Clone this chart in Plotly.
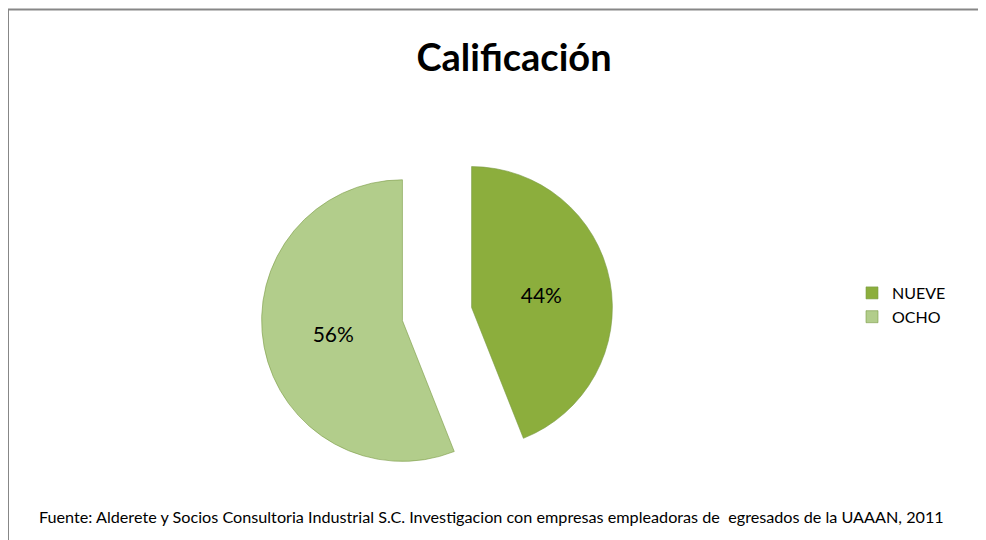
import plotly.graph_objects as go

# datos
labels = ["NUEVE", "OCHO"]
values = [44, 56]
colors = ["#8cae3d", "#b2cd8b"]

titulo = "Calificación"
fuente = ("Fuente: Alderete y Socios Consultoria Industrial S.C. Investigacion con empresas "
          "empleadoras de  egresados de la UAAAN, 2011")

W, H = 986, 540
OFF = 8  # margen del body en la pagina


def px(x):
    return (x - OFF) / W


def py(y):
    return 1 - (y - OFF) / H


fig = go.Figure()
fig.add_trace(go.Pie(
    labels=labels, values=values,
    sort=False, direction="clockwise", rotation=0,
    pull=[0.25, 0.25],
    marker=dict(colors=colors, line=dict(color="#7a9a45", width=0.6)),
    textinfo="percent", textposition="inside", insidetextorientation="horizontal",
    textfont=dict(size=21, color="#000000", family="Lato"),
    domain=dict(x=[px(437 - 176), px(437 + 176)], y=[py(314 + 176), py(314 - 176)]),
    hoverinfo="label+percent",
))

fig.update_layout(
    width=W, height=H,
    margin=dict(l=0, r=0, t=0, b=0),
    paper_bgcolor="white", plot_bgcolor="white",
    font=dict(family="Lato", color="#000000"),
    title=dict(text="<b>" + titulo + "</b>", x=px(514), xanchor="center",
               y=py(58), yanchor="middle", font=dict(size=38, family="Lato")),
    showlegend=True,
    legend=dict(x=px(852), xanchor="left", y=py(276), yanchor="top",
                font=dict(size=16, family="Lato"), bgcolor="rgba(0,0,0,0)",
                itemwidth=30),
    annotations=[dict(text=fuente, x=px(37), xanchor="left", y=py(517), yanchor="middle",
                      xref="paper", yref="paper", showarrow=False,
                      font=dict(size=16.2, family="Lato"))],
    shapes=[dict(type="rect", xref="paper", yref="paper",
                 x0=0, x1=1.05, y0=-0.05, y1=py(9.5),
                 line=dict(color="#878787", width=2), fillcolor="rgba(0,0,0,0)")],
)

fig.write_html("out.html")
